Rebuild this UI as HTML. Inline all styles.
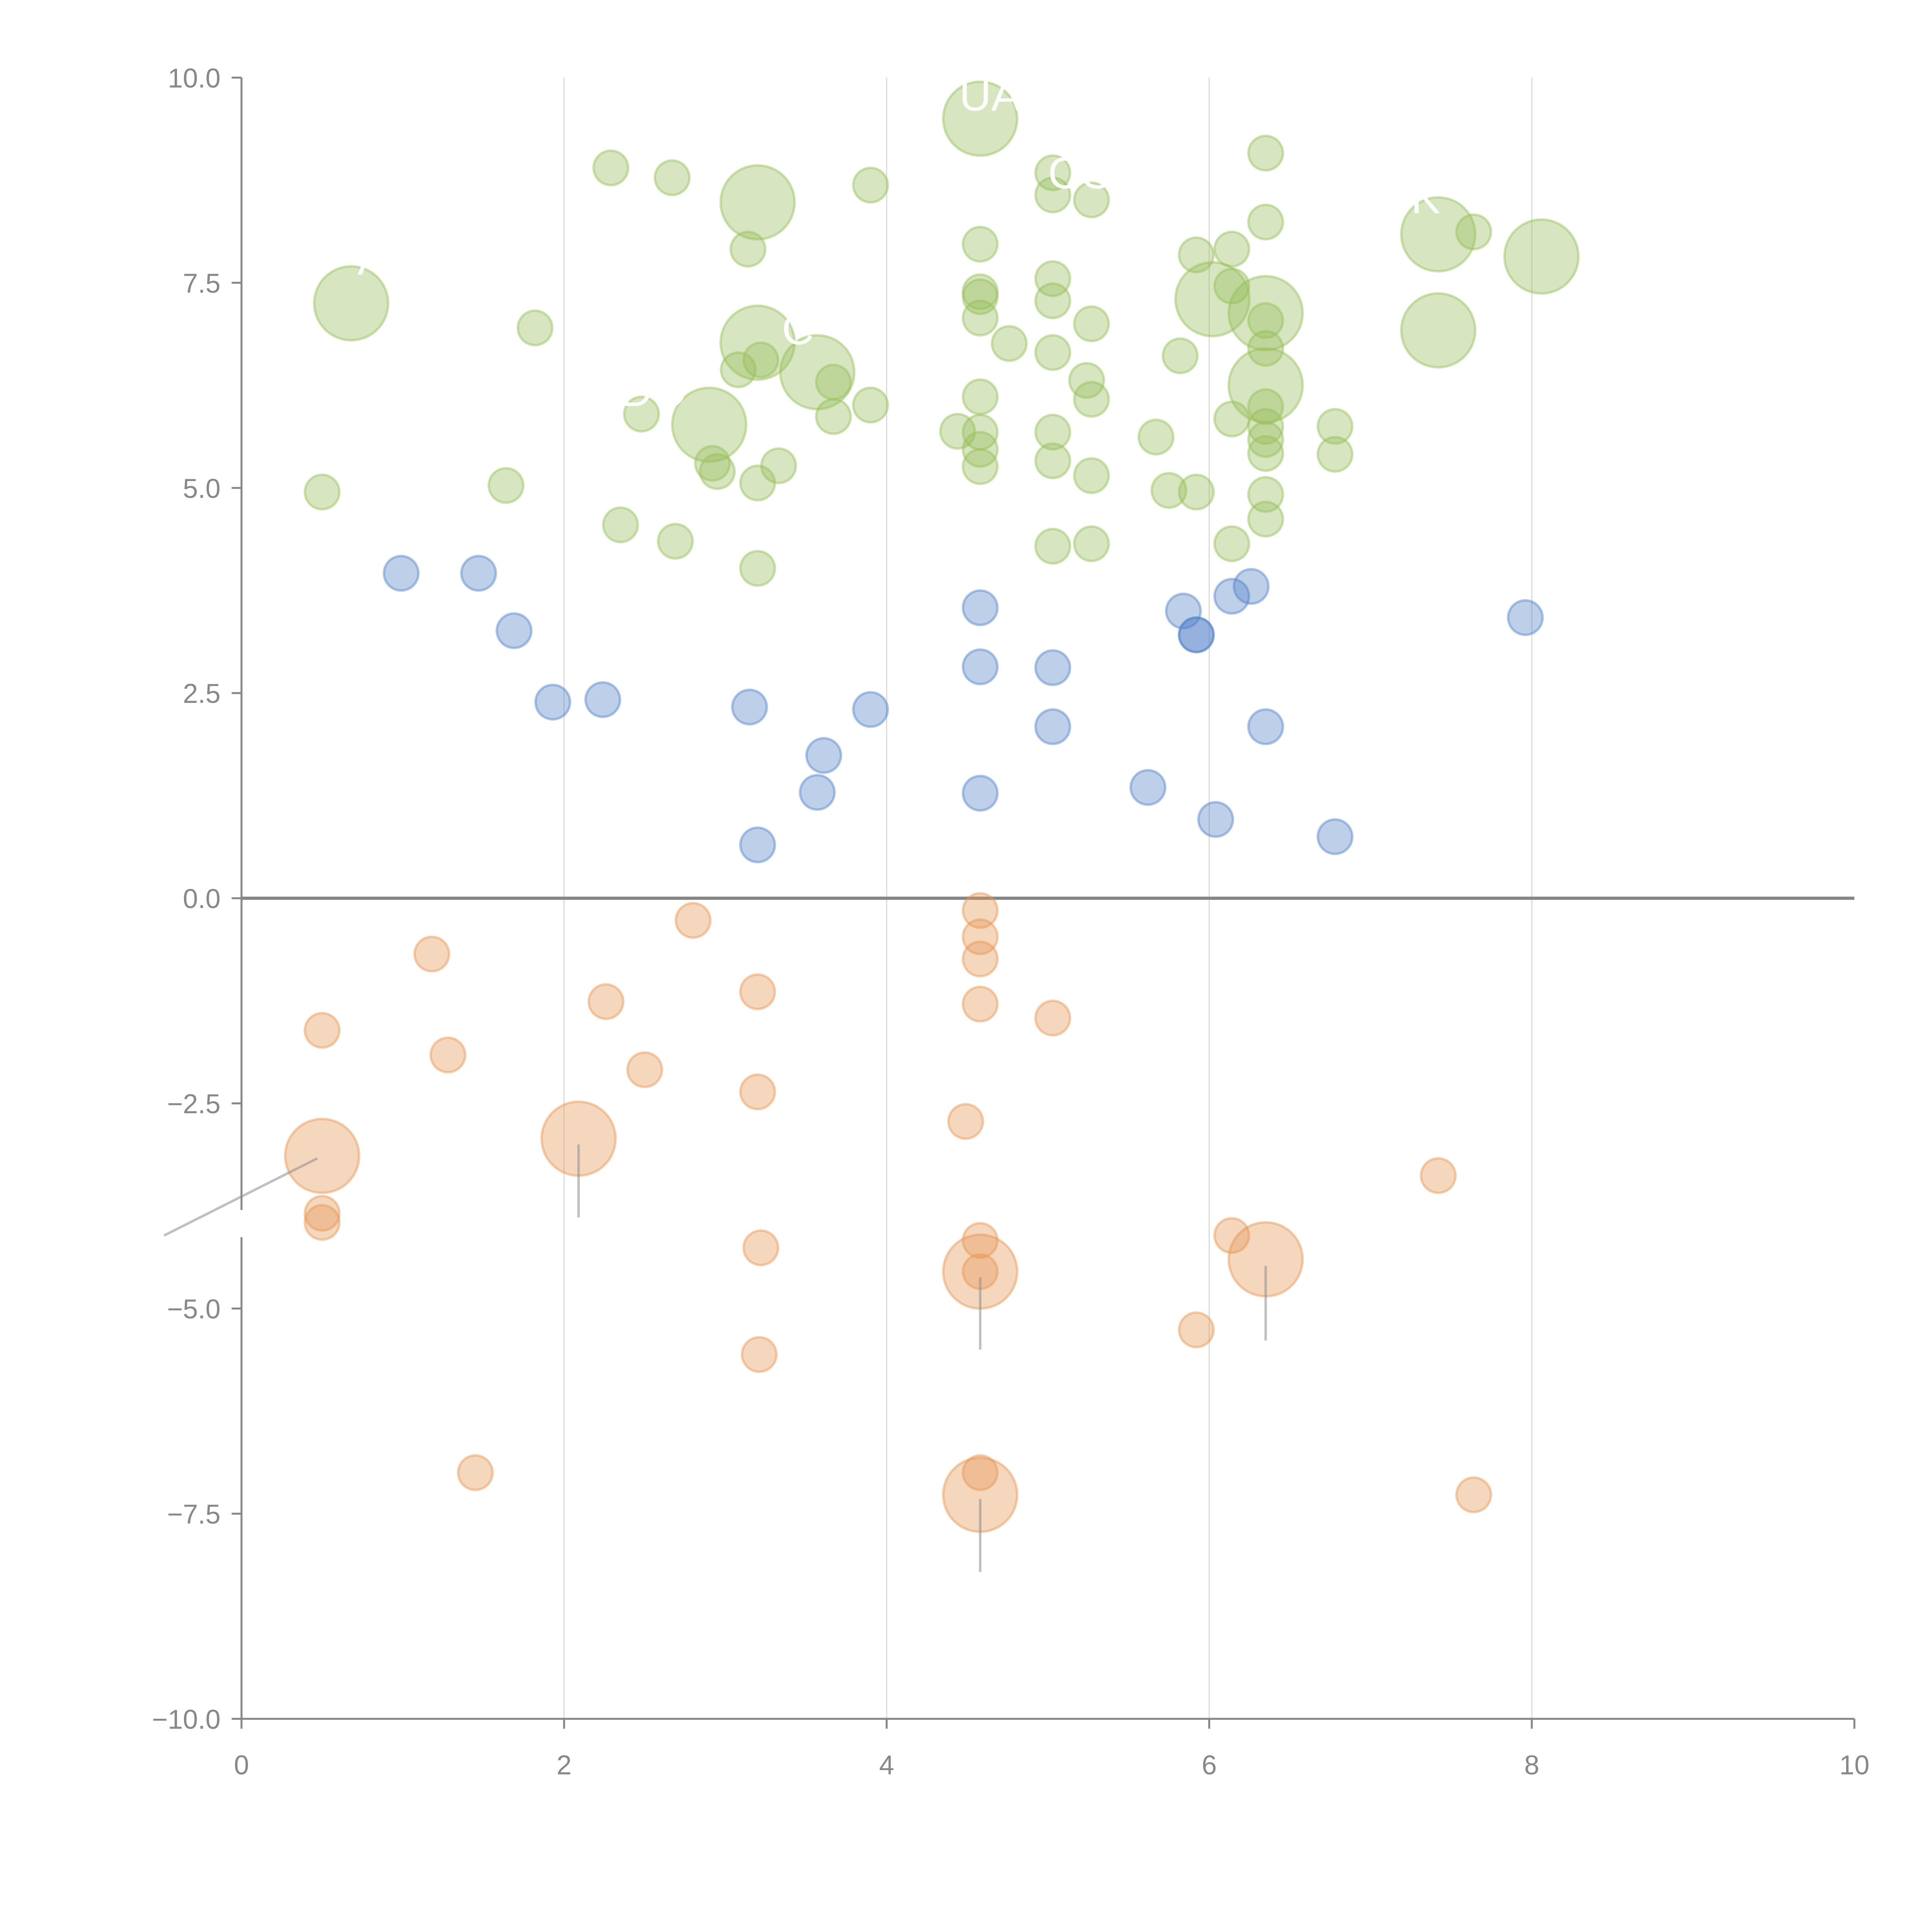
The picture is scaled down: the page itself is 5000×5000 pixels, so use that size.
<!DOCTYPE html>
<html><head><meta charset="utf-8">
<style>html,body{margin:0;padding:0;background:#fff;}svg{display:block;}</style>
</head><body>
<svg id="chart" width="5000" height="5000" viewBox="0 0 1568 1568" xmlns="http://www.w3.org/2000/svg" font-family="'Liberation Sans', Arial, sans-serif">
<rect width="1568" height="1568" fill="#fff"/>
<g id="grid"></g>
<g id="axes"></g>
<g id="marks"></g>
<g id="labels"></g>
</svg>
<script>
// ---- data ----
const xTicks = [0, 2, 4, 6, 8, 10];
const xTickLabels = ["0", "2", "4", "6", "8", "10"];
const yTicks = [10, 7.5, 5, 2.5, 0, -2.5, -5, -7.5, -10];
const yTickLabels = ["10.0", "7.5", "5.0", "2.5", "0.0", "\u22122.5", "\u22125.0", "\u22127.5", "\u221210.0"];

const greenX = [0.68,0.50,1.64,1.82,2.29,2.67,3.20,3.14,3.90,4.58,4.58,5.03,5.03,5.27,6.35,7.42,7.64,8.06,6.35,5.92,6.14,6.02,6.14,6.35,7.42,6.35,6.35,6.35,6.35,6.35,6.35,6.35,6.35,6.35,6.14,6.14,6.78,6.78,5.82,5.67,5.75,5.92,5.03,5.03,5.27,5.03,5.24,5.27,5.03,5.03,5.27,5.03,5.27,4.58,4.58,4.58,4.76,4.58,4.44,4.58,4.58,4.58,3.90,3.67,3.57,3.67,3.20,3.22,3.08,2.90,2.48,2.92,2.95,3.33,3.20,2.35,2.69,3.20];
const greenY = [7.25,4.95,5.03,6.95,8.90,8.78,8.48,7.91,8.69,9.50,7.97,8.84,8.57,8.51,9.08,8.09,8.12,7.82,8.24,7.84,7.91,7.30,7.46,7.13,6.92,7.04,6.70,6.25,5.99,5.75,5.59,5.42,4.92,4.62,5.84,4.32,5.75,5.41,6.61,5.62,4.97,4.95,7.55,7.28,7.00,6.65,6.31,6.08,5.68,5.33,5.15,4.29,4.32,7.39,7.33,7.07,6.76,6.11,5.69,5.68,5.47,5.26,6.01,6.29,6.41,5.87,6.77,6.56,6.44,5.77,5.90,5.30,5.20,5.27,5.06,4.55,4.35,4.02];
const greenSize = [3,1,1,1,1,1,3,1,1,3,1,1,1,1,1,3,1,3,1,1,1,3,1,3,3,1,1,3,1,1,1,1,1,1,1,1,1,1,1,1,1,1,1,1,1,1,1,1,1,1,1,1,1,1,1,1,1,1,1,1,1,1,1,1,3,1,3,1,1,3,1,1,1,1,1,1,1,1];

const blueX = [0.99,1.47,1.69,1.93,2.24,3.15,3.90,3.61,3.57,3.20,4.58,4.58,4.58,5.03,5.03,5.62,5.84,5.92,5.92,6.14,6.26,6.04,6.35,6.78,7.96];
const blueY = [3.96,3.96,3.26,2.39,2.42,2.33,2.30,1.74,1.29,0.65,3.54,2.82,1.28,2.81,2.09,1.35,3.50,3.21,3.21,3.68,3.80,0.96,2.09,0.75,3.42];
const blueSize = [1,1,1,1,1,1,1,1,1,1,1,1,1,1,1,1,1,1,1,1,1,1,1,1,1];

const orangeX = [0.50,1.18,1.28,0.50,0.50,0.50,1.45,2.09,2.26,2.50,2.80,3.20,3.20,3.22,3.21,4.58,4.58,4.58,4.58,5.03,4.49,4.58,4.58,4.58,4.58,4.58,5.92,6.14,6.35,7.42,7.64];
const orangeY = [-1.61,-0.68,-1.91,-3.14,-3.84,-3.95,-7.00,-2.93,-1.26,-2.09,-0.27,-1.14,-2.36,-4.26,-5.56,-0.15,-0.47,-0.74,-1.29,-1.46,-2.72,-4.17,-4.55,-4.55,-7.00,-7.27,-5.26,-4.11,-4.40,-3.38,-7.27];
const orangeSize = [1,1,1,3,1,1,1,3,1,1,1,1,1,1,1,1,1,1,1,1,1,1,3,1,1,3,1,1,3,1,1];

// leader lines for big orange bubbles: [x0,y0,x1,y1] in data units
const leaderX0 = [0.47, 2.09, 4.58, 6.35, 4.58];
const leaderY0 = [-3.17, -3.00, -4.62, -4.48, -7.32];
const leaderX1 = [-0.48, 2.09, 4.58, 6.35, 4.58];
const leaderY1 = [-4.11, -3.89, -5.50, -5.39, -8.21];

const labelText = ["A", "UA", "CO", "C", "DO", "K"];
const labelX = [0.72, 4.45, 5.0, 3.35, 2.35, 7.25];
const labelY = [7.6, 9.6, 8.65, 6.75, 6.0, 8.35];

// ---- scales ----
const X0 = 196, X1 = 1505, Y0 = 729, YTOP = 63, YBOT = 1395;
function sx(v){ return X0 + v * (X1 - X0) / 10; }
function sy(v){ return Y0 - v * (Y0 - YTOP) / 10; }
function rad(s){ return s === 3 ? 30 : 14; }

const NS = "http://www.w3.org/2000/svg";
function mk(tag, attrs, parent){
  const el = document.createElementNS(NS, tag);
  for (const k in attrs) el.setAttribute(k, attrs[k]);
  parent.appendChild(el);
  return el;
}
const grid = document.getElementById('grid');
const axes = document.getElementById('axes');
const marks = document.getElementById('marks');
const labels = document.getElementById('labels');

// grid lines
[2,4,6,8].forEach(v => {
  const l = mk('line', {x1:sx(v), x2:sx(v), y1:YTOP, y2:YBOT, stroke:'#dcdcdc', 'stroke-width':1}, grid);
  
  
});

// y axis
const ya = mk('line', {x1:X0, x2:X0, y1:YTOP, y2:YBOT, stroke:'#888', 'stroke-width':1.6}, axes);


yTicks.forEach((v, i) => {
  const t = mk('line', {x1:X0-8, x2:X0, y1:sy(v), y2:sy(v), stroke:'#888', 'stroke-width':1.6}, axes);
  
  
  const tx = mk('text', {x:X0-17, y:sy(v)+8, 'text-anchor':'end', 'font-size':22, fill:'#888'}, axes);
  tx.textContent = yTickLabels[i];
  
  
});
// x axis
const xa = mk('line', {x1:X0, x2:X1, y1:YBOT, y2:YBOT, stroke:'#888', 'stroke-width':1.6}, axes);


xTicks.forEach((v, i) => {
  const t = mk('line', {x1:sx(v), x2:sx(v), y1:YBOT, y2:YBOT+8, stroke:'#888', 'stroke-width':1.6}, axes);
  
  
  const tx = mk('text', {x:sx(v), y:YBOT+45, 'text-anchor':'middle', 'font-size':22, fill:'#888'}, axes);
  tx.textContent = xTickLabels[i];
  
  
});
// zero line
const z = mk('line', {x1:X0, x2:X1, y1:sy(0), y2:sy(0), stroke:'#858585', 'stroke-width':2.6}, axes);



// bubbles
function drawSeries(xs, ys, ss, color, name){
  for (let i = 0; i < xs.length; i++){
    const c = mk('circle', {cx:sx(xs[i]), cy:sy(ys[i]), r:rad(ss[i]), fill:color, 'fill-opacity':0.38, stroke:color, 'stroke-opacity':0.45, 'stroke-width':2}, marks);
    
    
  }
}
drawSeries(greenX, greenY, greenSize, 'rgb(150,190,90)', 'green-bubble');
drawSeries(blueX, blueY, blueSize, 'rgb(85,130,200)', 'blue-bubble');
drawSeries(orangeX, orangeY, orangeSize, 'rgb(230,150,85)', 'orange-bubble');

// leader lines
for (let i = 0; i < leaderX0.length; i++){
  const l = mk('line', {x1:sx(leaderX0[i]), y1:sy(leaderY0[i]), x2:sx(leaderX1[i]), y2:sy(leaderY1[i]), stroke:'rgb(140,140,140)', 'stroke-opacity':0.55, 'stroke-width':2}, labels);
  
  
}
// small white gap on y axis
const gap = mk('rect', {x:X0-2, y:982, width:4, height:22, fill:'#fff'}, labels);



// white labels
for (let i = 0; i < labelText.length; i++){
  const t = mk('text', {x:sx(labelX[i]), y:sy(labelY[i]), 'font-size':36, fill:'#fff'}, labels);
  t.textContent = labelText[i];
  
  
}
</script>
</body></html>
